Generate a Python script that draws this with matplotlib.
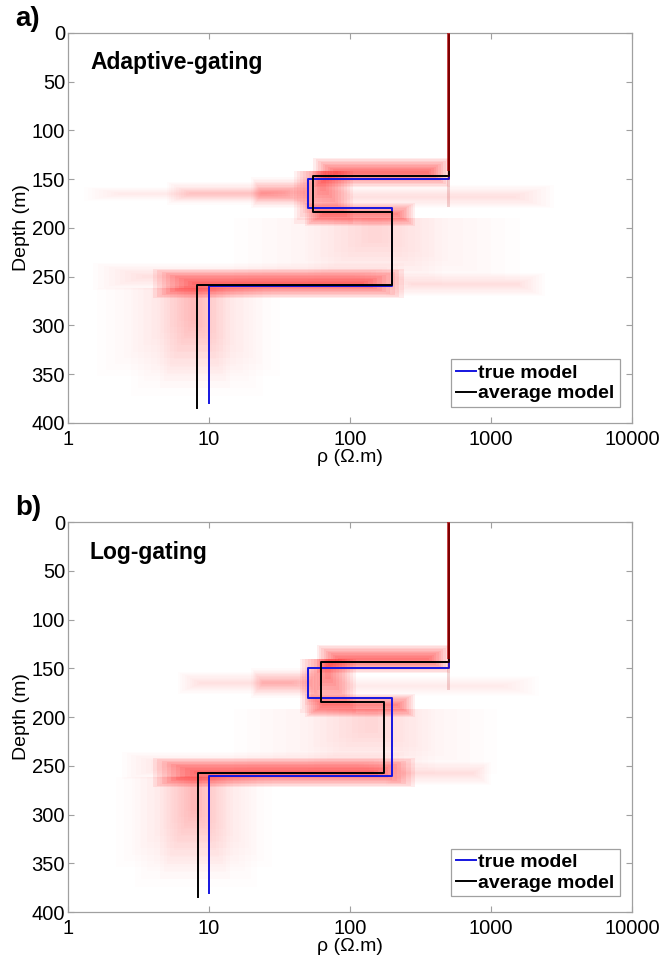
import matplotlib
matplotlib.use('Agg')
import numpy as np
import matplotlib.pyplot as plt
from matplotlib.patches import Rectangle
from matplotlib.ticker import FixedLocator, NullLocator

plt.rcParams['font.family'] = ['Liberation Sans', 'DejaVu Sans']

# true model (same for both panels): resistivity per layer and layer boundaries
true_rho = [500, 50, 200, 10]
true_z = [0, 150, 180, 260, 380]

# average models
avg_rho_a = [500, 55, 200, 8.2]
avg_z_a = [0, 147, 184, 258, 385]
avg_rho_b = [500, 62, 173, 8.3]
avg_z_b = [0, 144, 185, 257, 385]

# posterior model cloud, read as blocks:
# rho_lo, rho_hi, z_top, z_bot, density, kind ('l' line, 'h' interface band, 'v' layer)
cloud_a = [
    (490, 510, 0, 142, 0.9, 'l'),
    (488, 512, 142, 178, 0.2, 'l'),
    (55, 515, 128, 158, 0.95, 'h'),
    (20, 56, 148, 180, 0.3, 'h'),
    (5, 50, 153, 176, 0.2, 'h'),
    (1.3, 45, 158, 172, 0.12, 'h'),
    (55, 2800, 156, 180, 0.14, 'h'),
    (40, 105, 142, 196, 0.75, 'v'),
    (48, 290, 174, 198, 0.8, 'h'),
    (15, 1600, 190, 258, 0.1, 'v'),
    (50, 450, 190, 258, 0.1, 'v'),
    (1.5, 240, 236, 264, 0.18, 'h'),
    (4, 240, 242, 272, 1.0, 'h'),
    (180, 2400, 246, 270, 0.18, 'h'),
    (1.6, 32, 262, 352, 0.12, 'v'),
    (2.8, 24, 262, 372, 0.12, 'v'),
    (4.5, 14, 260, 364, 0.14, 'v'),
]
cloud_b = [
    (490, 510, 0, 140, 0.9, 'l'),
    (488, 512, 140, 172, 0.2, 'l'),
    (58, 515, 126, 155, 0.95, 'h'),
    (20, 62, 150, 180, 0.28, 'h'),
    (6, 55, 154, 176, 0.15, 'h'),
    (60, 2200, 158, 178, 0.12, 'h'),
    (44, 110, 140, 196, 0.75, 'v'),
    (48, 290, 176, 200, 0.8, 'h'),
    (15, 1100, 192, 258, 0.1, 'v'),
    (50, 400, 192, 258, 0.1, 'v'),
    (2.4, 240, 236, 264, 0.18, 'h'),
    (4, 290, 242, 272, 1.0, 'h'),
    (180, 1000, 246, 270, 0.18, 'h'),
    (2.2, 28, 262, 354, 0.12, 'v'),
    (3, 22, 262, 374, 0.12, 'v'),
    (4.5, 14, 260, 366, 0.14, 'v'),
]

panels = [
    ('a)', 'Adaptive-gating', avg_rho_a, avg_z_a, cloud_a),
    ('b)', 'Log-gating', avg_rho_b, avg_z_b, cloud_b),
]


def steps(rho, z):
    xs, ys = [], []
    for i, r in enumerate(rho):
        xs += [r, r]
        ys += [z[i], z[i + 1]]
    return xs, ys


def soft_block(ax, lo, hi, zt, zb, d, kind, n=10):
    # nested rectangles shrinking inwards give soft edges
    if kind == 'l':
        ax.add_patch(Rectangle((lo, zt), hi - lo, zb - zt, facecolor='#b00000',
                               edgecolor='none', alpha=d * 0.8, zorder=3))
        return
    l0, l1 = np.log10(lo), np.log10(hi)
    for k in range(n):
        f = 0.5 * k / n
        if kind == 'h':
            fx, fz0, fz1 = 0.35 * f, f, f
        else:
            fx, fz0, fz1 = f, 0.0, 1.4 * f
        a0, a1 = l0 + fx * (l1 - l0), l1 - fx * (l1 - l0)
        z0, z1 = zt + fz0 * (zb - zt), zb - fz1 * (zb - zt)
        ax.add_patch(Rectangle((10 ** a0, z0), 10 ** a1 - 10 ** a0, z1 - z0,
                               facecolor='red', edgecolor='none',
                               alpha=d * 0.75 / n, zorder=1))


fig = plt.figure(figsize=(6.71, 9.58), dpi=100)
axes_pos = [[0.1013, 0.5585, 0.8405, 0.4071], [0.1013, 0.048, 0.8405, 0.4071]]
grey = '#a0a0a0'

for pos, (tag, name, arho, az, cloud) in zip(axes_pos, panels):
    ax = fig.add_axes(pos)
    ax.set_xscale('log')
    ax.set_xlim(1, 10000)
    ax.set_ylim(400, 0)

    for blk in cloud:
        soft_block(ax, *blk)

    tx, ty = steps(true_rho, true_z)
    ax.plot(tx, ty, color='#1515e0', lw=1.4, zorder=2, label='true model')
    mx, my = steps(arho, az)
    ax.plot(mx, my, color='black', lw=1.4, zorder=2, label='average model')

    ax.xaxis.set_major_locator(FixedLocator([1, 10, 100, 1000, 10000]))
    ax.xaxis.set_minor_locator(NullLocator())
    ax.set_xticklabels(['1', '10', '100', '1000', '10000'])
    ax.set_yticks(range(0, 401, 50))
    ax.tick_params(direction='in', length=4, width=0.8, color=grey,
                   top=True, right=True, labelsize=14.5)
    ax.tick_params(axis='x', pad=5)
    ax.tick_params(axis='y', pad=2)
    for s in ax.spines.values():
        s.set_color(grey)
        s.set_linewidth(0.9)

    ax.set_xlabel('ρ (Ω.m)', fontsize=14, labelpad=0)
    ax.set_ylabel('Depth (m)', fontsize=14, labelpad=1)
    ax.text(0.039, 0.923, name, transform=ax.transAxes, fontsize=16.5,
            fontweight='bold', va='center', ha='left')
    ax.text(-0.094, 1.035, tag, transform=ax.transAxes, fontsize=20,
            fontweight='bold', va='center', ha='left')

    leg = ax.legend(loc='lower right', bbox_to_anchor=(0.978, 0.04),
                    prop={'weight': 'bold', 'size': 14},
                    handlelength=1.0, handletextpad=0.15, borderpad=0.25,
                    labelspacing=0.15, fancybox=False, framealpha=1,
                    borderaxespad=0)
    leg.get_frame().set_edgecolor(grey)
    leg.get_frame().set_linewidth(0.9)

fig.savefig('out.png', dpi=100)
